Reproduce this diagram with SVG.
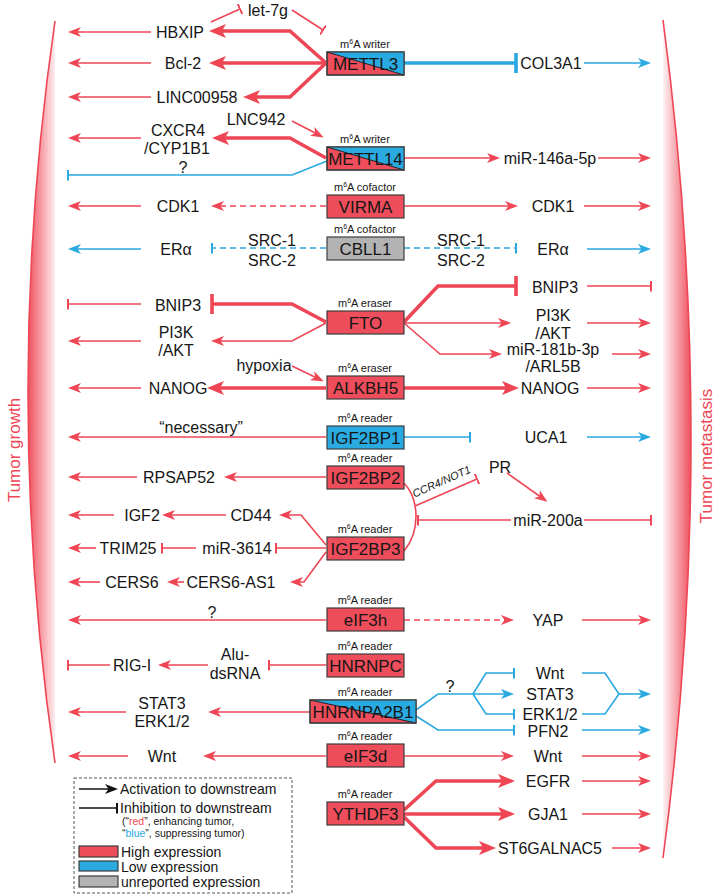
<svg xmlns="http://www.w3.org/2000/svg" width="716" height="894" viewBox="0 0 716 894">
<style>
text{font-family:"Liberation Sans",Arial,Helvetica,sans-serif;fill:#161616}
.t{font-size:16px;text-anchor:middle;dominant-baseline:central}
.bx{font-size:17px;text-anchor:middle;dominant-baseline:central}
.m6{font-size:11px;text-anchor:middle}
.sup{font-size:7px}
.lg{font-size:14px;dominant-baseline:central}
.ls{font-size:10.5px;dominant-baseline:central}
.side{font-size:17px;fill:#ee4655;text-anchor:middle;dominant-baseline:central}
.r{stroke:#ee4655;stroke-width:1.6;fill:none}
.rt{stroke:#ee4655;stroke-width:3.6;fill:none}
.b{stroke:#29a9e0;stroke-width:1.6;fill:none}
.bt{stroke:#29a9e0;stroke-width:3.6;fill:none}
.k{stroke:#111;stroke-width:1.6;fill:none}
.d{stroke-dasharray:6 4}
.boxR{fill:#ee4d5b;stroke:#3c3c3c;stroke-width:1.2}
.boxB{fill:#29abe2;stroke:#3c3c3c;stroke-width:1.2}
.boxG{fill:#b3b3b3;stroke:#3c3c3c;stroke-width:1.2}
.tri{fill:#29abe2}
.diag{stroke:#222;stroke-width:1}
</style>
<defs>
<marker id="aR" markerUnits="userSpaceOnUse" markerWidth="14" markerHeight="10" refX="10" refY="5" orient="auto"><path d="M0,0 L13,5 L0,10 L3.5,5 z" fill="#ee4655"/></marker>
<marker id="aRt" markerUnits="userSpaceOnUse" markerWidth="18" markerHeight="14" refX="12" refY="7" orient="auto"><path d="M0,0 L17,7 L0,14 L4,7 z" fill="#ee4655"/></marker>
<marker id="aB" markerUnits="userSpaceOnUse" markerWidth="14" markerHeight="10" refX="10" refY="5" orient="auto"><path d="M0,0 L13,5 L0,10 L3.5,5 z" fill="#29a9e0"/></marker>
<marker id="aK" markerUnits="userSpaceOnUse" markerWidth="14" markerHeight="10" refX="10" refY="5" orient="auto"><path d="M0,0 L13,5 L0,10 L3.5,5 z" fill="#111"/></marker>
<marker id="bR" markerUnits="userSpaceOnUse" markerWidth="2" markerHeight="11" refX="1" refY="5.5" orient="auto"><rect width="2" height="11" fill="#ee4655"/></marker>
<marker id="bRt" markerUnits="userSpaceOnUse" markerWidth="3.6" markerHeight="20" refX="1.8" refY="10" orient="auto"><rect width="3.6" height="20" fill="#ee4655"/></marker>
<marker id="bB" markerUnits="userSpaceOnUse" markerWidth="2" markerHeight="11" refX="1" refY="5.5" orient="auto"><rect width="2" height="11" fill="#29a9e0"/></marker>
<marker id="bBt" markerUnits="userSpaceOnUse" markerWidth="3.6" markerHeight="20" refX="1.8" refY="10" orient="auto"><rect width="3.6" height="20" fill="#29a9e0"/></marker>
<marker id="bK" markerUnits="userSpaceOnUse" markerWidth="2" markerHeight="11" refX="1" refY="5.5" orient="auto"><rect width="2" height="11" fill="#111"/></marker>
<linearGradient id="gL" gradientUnits="userSpaceOnUse" x1="28" y1="0" x2="58" y2="0"><stop offset="0" stop-color="#ee4655" stop-opacity="0.95"/><stop offset="1" stop-color="#ee4655" stop-opacity="0"/></linearGradient>
<linearGradient id="gR" gradientUnits="userSpaceOnUse" x1="691" y1="0" x2="661" y2="0"><stop offset="0" stop-color="#ee4655" stop-opacity="0.95"/><stop offset="1" stop-color="#ee4655" stop-opacity="0"/></linearGradient>
</defs>
<rect width="716" height="894" fill="#fff"/>

<g id="brackets">
<path d="M55,21 Q1,392 55,763 Z" fill="url(#gL)"/>
<path d="M55,21 Q1,392 55,763" class="r"/>
<path d="M663,20 Q719,439 663,858 Z" fill="url(#gR)"/>
<path d="M663,20 Q719,439 663,858" class="r"/>
<text class="side" transform="translate(14,450) rotate(-90)">Tumor growth</text>
<text class="side" transform="translate(706,456) rotate(-90)">Tumor metastasis</text>
</g>

<g id="connectors">
<!-- METTL3 -->
<path class="rt" d="M326,63 L290,31 L214,31" marker-end="url(#aRt)"/>
<path class="rt" d="M326,63 L214,63" marker-end="url(#aRt)"/>
<path class="rt" d="M326,63 L290,97 L248,97" marker-end="url(#aRt)"/>
<path class="r" d="M151,32 L71,32" marker-end="url(#aR)"/>
<path class="r" d="M151,63 L71,63" marker-end="url(#aR)"/>
<path class="r" d="M151,97 L71,97" marker-end="url(#aR)"/>
<path class="r" d="M211,22 L240,9" marker-end="url(#bR)"/>
<path class="r" d="M292,10 L323,30" marker-end="url(#bR)"/>
<path class="bt" d="M404,63 L516,63" marker-end="url(#bBt)"/>
<path class="b" d="M584,63 L648,63" marker-end="url(#aB)"/>
<!-- METTL14 -->
<path class="r" d="M292,121 L321,136" marker-end="url(#aR)"/>
<path class="rt" d="M326,158 L290,138 L217,138" marker-end="url(#aRt)"/>
<path class="r" d="M141,138 L71,138" marker-end="url(#aR)"/>
<path class="b" d="M327,161 L292,175 L68,175" marker-end="url(#bB)"/>
<path class="r" d="M404,158 L497,158" marker-end="url(#aR)"/>
<path class="r" d="M598,158 L648,158" marker-end="url(#aR)"/>
<!-- VIRMA -->
<path class="r d" d="M326,206 L214,206" marker-end="url(#aR)"/>
<path class="r" d="M141,206 L71,206" marker-end="url(#aR)"/>
<path class="r" d="M404,206 L515,206" marker-end="url(#aR)"/>
<path class="r" d="M584,206 L648,206" marker-end="url(#aR)"/>
<!-- CBLL1 -->
<path class="b d" d="M326,248 L212,248" marker-end="url(#bB)"/>
<path class="b" d="M141,249 L71,249" marker-end="url(#aB)"/>
<path class="b d" d="M404,248 L516,248" marker-end="url(#bB)"/>
<path class="b" d="M587,249 L648,249" marker-end="url(#aB)"/>
<!-- FTO -->
<path class="rt" d="M326,322 L292,304 L212,304" marker-end="url(#bRt)"/>
<path class="r" d="M141,304 L68,304" marker-end="url(#bR)"/>
<path class="r" d="M326,323 L292,341 L214,341" marker-end="url(#aR)"/>
<path class="r" d="M141,341 L71,341" marker-end="url(#aR)"/>
<path class="rt" d="M404,322 L438,286 L516,286" marker-end="url(#bRt)"/>
<path class="r" d="M587,286 L651,286" marker-end="url(#bR)"/>
<path class="r" d="M404,323 L508,323" marker-end="url(#aR)"/>
<path class="r" d="M587,323 L648,323" marker-end="url(#aR)"/>
<path class="r" d="M404,323 L440,354 L499,354" marker-end="url(#aR)"/>
<path class="r" d="M612,354 L648,354" marker-end="url(#aR)"/>
<!-- ALKBH5 -->
<path class="r" d="M292,366 L321,380" marker-end="url(#aR)"/>
<path class="rt" d="M326,388 L212,388" marker-end="url(#aRt)"/>
<path class="r" d="M141,388 L71,388" marker-end="url(#aR)"/>
<path class="rt" d="M404,388 L514,388" marker-end="url(#aRt)"/>
<path class="r" d="M587,388 L648,388" marker-end="url(#aR)"/>
<!-- IGF2BP1 -->
<path class="r" d="M326,437 L71,437" marker-end="url(#aR)"/>
<path class="b" d="M404,437 L470,437" marker-end="url(#bB)"/>
<path class="b" d="M587,437 L648,437" marker-end="url(#aB)"/>
<!-- IGF2BP2 -->
<path class="r" d="M326,477 L227,477" marker-end="url(#aR)"/>
<path class="r" d="M137,477 L71,477" marker-end="url(#aR)"/>
<path class="r" d="M404,483 C420,500 420,532 404,551"/>
<path class="r" d="M415,506 L477,479" marker-end="url(#bR)"/>
<path class="r" d="M507,473 L545,500" marker-end="url(#aR)"/>
<path class="r" d="M511,520 L418,520" marker-end="url(#bR)"/>
<path class="r" d="M584,520 L651,520" marker-end="url(#bR)"/>
<!-- IGF2BP3 -->
<path class="r" d="M326,545 L301,515 L282,515" marker-end="url(#aR)"/>
<path class="r" d="M226,515 L165,515" marker-end="url(#aR)"/>
<path class="r" d="M114,515 L71,515" marker-end="url(#aR)"/>
<path class="r" d="M326,548 L276,548" marker-end="url(#bR)"/>
<path class="r" d="M196,548 L162,548" marker-end="url(#bR)"/>
<path class="r" d="M96,548 L71,548" marker-end="url(#aR)"/>
<path class="r" d="M326,552 L304,582 L293,582" marker-end="url(#aR)"/>
<path class="r" d="M184,582 L170,582" marker-end="url(#aR)"/>
<path class="r" d="M100,582 L71,582" marker-end="url(#aR)"/>
<!-- eIF3h -->
<path class="r" d="M326,620 L71,620" marker-end="url(#aR)"/>
<path class="r d" d="M404,620 L511,620" marker-end="url(#aR)"/>
<path class="r" d="M582,620 L648,620" marker-end="url(#aR)"/>
<!-- HNRNPC -->
<path class="r" d="M326,665 L269,665" marker-end="url(#bR)"/>
<path class="r" d="M208,665 L161,665" marker-end="url(#aR)"/>
<path class="r" d="M110,665 L68,665" marker-end="url(#bR)"/>
<!-- HNRNPA2B1 -->
<path class="r" d="M310,712 L211,712" marker-end="url(#aR)"/>
<path class="r" d="M126,712 L71,712" marker-end="url(#aR)"/>
<path class="b" d="M416,710 L438,694 L473,694"/>
<path class="b" d="M473,694 L486,673 L514,673" marker-end="url(#bB)"/>
<path class="b" d="M473,694 L511,694" marker-end="url(#aB)"/>
<path class="b" d="M473,694 L486,714 L514,714" marker-end="url(#bB)"/>
<path class="b" d="M582,673 L605,673 L619,694 L605,714 L582,714"/>
<path class="b" d="M619,694 L648,694" marker-end="url(#aB)"/>
<path class="b" d="M416,716 L438,730 L514,730" marker-end="url(#bB)"/>
<path class="b" d="M582,730 L648,730" marker-end="url(#aB)"/>
<!-- eIF3d -->
<path class="r" d="M326,756 L206,756" marker-end="url(#aR)"/>
<path class="r" d="M128,756 L71,756" marker-end="url(#aR)"/>
<path class="r" d="M404,756 L511,756" marker-end="url(#aR)"/>
<path class="r" d="M582,756 L648,756" marker-end="url(#aR)"/>
<!-- YTHDF3 -->
<path class="rt" d="M404,810 L436,781 L510,781" marker-end="url(#aRt)"/>
<path class="rt" d="M404,814 L510,814" marker-end="url(#aRt)"/>
<path class="rt" d="M404,817 L436,848 L491,848" marker-end="url(#aRt)"/>
<path class="r" d="M582,781 L648,781" marker-end="url(#aR)"/>
<path class="r" d="M582,814 L648,814" marker-end="url(#aR)"/>
<path class="r" d="M612,848 L648,848" marker-end="url(#aR)"/>
</g>

<g id="METTL3"><text class="m6" x="365" y="48">m<tspan class="sup" dy="-4">6</tspan><tspan dy="4">A writer</tspan></text>
<rect class="boxR" x="327" y="52" width="77" height="23" stroke="none"/><polygon class="tri" points="327,52 404,52 404,75"/><line class="diag" x1="327" y1="52" x2="404" y2="75"/><rect x="327" y="52" width="77" height="23" fill="none" stroke="#3c3c3c" stroke-width="1.2"/>
<text class="bx" x="365.5" y="64">METTL3</text></g>
<g id="METTL14"><text class="m6" x="365" y="143">m<tspan class="sup" dy="-4">6</tspan><tspan dy="4">A writer</tspan></text>
<rect class="boxR" x="327" y="147" width="77" height="23" stroke="none"/><polygon class="tri" points="327,147 404,147 404,170"/><line class="diag" x1="327" y1="147" x2="404" y2="170"/><rect x="327" y="147" width="77" height="23" fill="none" stroke="#3c3c3c" stroke-width="1.2"/>
<text class="bx" x="365.5" y="159">METTL14</text></g>
<g id="VIRMA"><text class="m6" x="365" y="191">m<tspan class="sup" dy="-4">6</tspan><tspan dy="4">A cofactor</tspan></text><rect class="boxR" x="327" y="195" width="77" height="23"/><text class="bx" x="365.5" y="207">VIRMA</text></g>
<g id="CBLL1"><text class="m6" x="365" y="233">m<tspan class="sup" dy="-4">6</tspan><tspan dy="4">A cofactor</tspan></text><rect class="boxG" x="327" y="237" width="77" height="23"/><text class="bx" x="365.5" y="249">CBLL1</text></g>
<g id="FTO"><text class="m6" x="365" y="307">m<tspan class="sup" dy="-4">6</tspan><tspan dy="4">A eraser</tspan></text><rect class="boxR" x="327" y="311" width="77" height="23"/><text class="bx" x="365.5" y="323">FTO</text></g>
<g id="ALKBH5"><text class="m6" x="365" y="372">m<tspan class="sup" dy="-4">6</tspan><tspan dy="4">A eraser</tspan></text><rect class="boxR" x="327" y="376" width="77" height="23"/><text class="bx" x="365.5" y="388">ALKBH5</text></g>
<g id="IGF2BP1"><text class="m6" x="365" y="422">m<tspan class="sup" dy="-4">6</tspan><tspan dy="4">A reader</tspan></text><rect class="boxB" x="327" y="426" width="77" height="23"/><text class="bx" x="365.5" y="438">IGF2BP1</text></g>
<g id="IGF2BP2"><text class="m6" x="365" y="462">m<tspan class="sup" dy="-4">6</tspan><tspan dy="4">A reader</tspan></text><rect class="boxR" x="327" y="466" width="77" height="23"/><text class="bx" x="365.5" y="478">IGF2BP2</text></g>
<g id="IGF2BP3"><text class="m6" x="365" y="533">m<tspan class="sup" dy="-4">6</tspan><tspan dy="4">A reader</tspan></text><rect class="boxR" x="327" y="537" width="77" height="23"/><text class="bx" x="365.5" y="549">IGF2BP3</text></g>
<g id="eIF3h"><text class="m6" x="365" y="604">m<tspan class="sup" dy="-4">6</tspan><tspan dy="4">A reader</tspan></text><rect class="boxR" x="327" y="608" width="77" height="23"/><text class="bx" x="365.5" y="620">eIF3h</text></g>
<g id="HNRNPC"><text class="m6" x="365" y="650">m<tspan class="sup" dy="-4">6</tspan><tspan dy="4">A reader</tspan></text><rect class="boxR" x="327" y="654" width="77" height="23"/><text class="bx" x="365.5" y="666">HNRNPC</text></g>
<g id="HNRNPA2B1"><text class="m6" x="365" y="696">m<tspan class="sup" dy="-4">6</tspan><tspan dy="4">A reader</tspan></text>
<rect class="boxR" x="310" y="700" width="106" height="23" stroke="none"/><polygon class="tri" points="310,700 416,700 416,723"/><line class="diag" x1="310" y1="700" x2="416" y2="723"/><rect x="310" y="700" width="106" height="23" fill="none" stroke="#3c3c3c" stroke-width="1.2"/>
<text class="bx" x="363" y="712">HNRNPA2B1</text></g>
<g id="eIF3d"><text class="m6" x="365" y="740">m<tspan class="sup" dy="-4">6</tspan><tspan dy="4">A reader</tspan></text><rect class="boxR" x="327" y="744" width="77" height="23"/><text class="bx" x="365.5" y="756">eIF3d</text></g>
<g id="YTHDF3"><text class="m6" x="365" y="798">m<tspan class="sup" dy="-4">6</tspan><tspan dy="4">A reader</tspan></text><rect class="boxR" x="327" y="802" width="77" height="23"/><text class="bx" x="365.5" y="814">YTHDF3</text></g>

<g id="let-7g"><text class="t" x="268" y="10">let-7g</text></g>
<g id="HBXIP"><text class="t" x="180" y="32">HBXIP</text></g>
<g id="Bcl-2"><text class="t" x="183" y="63">Bcl-2</text></g>
<g id="LINC00958"><text class="t" x="197" y="97">LINC00958</text></g>
<g id="COL3A1"><text class="t" x="551" y="63">COL3A1</text></g>
<g id="LNC942"><text class="t" x="256" y="119">LNC942</text></g>
<g id="CXCR4"><text class="t" x="178" y="130">CXCR4</text><text class="t" x="177" y="148">/CYP1B1</text></g>
<g id="q1"><text class="t" x="183" y="167">?</text></g>
<g id="miR-146a-5p"><text class="t" x="550" y="158">miR-146a-5p</text></g>
<g id="CDK1-L"><text class="t" x="178" y="206">CDK1</text></g>
<g id="CDK1-R"><text class="t" x="553" y="206">CDK1</text></g>
<g id="ERa-L"><text class="t" x="176" y="249">ERα</text></g>
<g id="ERa-R"><text class="t" x="553" y="249">ERα</text></g>
<g id="SRC-L"><text class="t" x="272" y="240">SRC-1</text><text class="t" x="272" y="260">SRC-2</text></g>
<g id="SRC-R"><text class="t" x="461" y="240">SRC-1</text><text class="t" x="461" y="260">SRC-2</text></g>
<g id="BNIP3-L"><text class="t" x="178" y="305">BNIP3</text></g>
<g id="PI3K-L"><text class="t" x="176" y="332">PI3K</text><text class="t" x="176" y="350">/AKT</text></g>
<g id="BNIP3-R"><text class="t" x="555" y="287">BNIP3</text></g>
<g id="PI3K-R"><text class="t" x="553" y="315">PI3K</text><text class="t" x="553" y="333">/AKT</text></g>
<g id="miR-181b"><text class="t" x="553" y="349">miR-181b-3p</text><text class="t" x="553" y="366">/ARL5B</text></g>
<g id="hypoxia"><text class="t" x="264" y="365">hypoxia</text></g>
<g id="NANOG-L"><text class="t" x="178" y="388">NANOG</text></g>
<g id="NANOG-R"><text class="t" x="550" y="388">NANOG</text></g>
<g id="necessary"><text class="t" x="201" y="427">“necessary”</text></g>
<g id="UCA1"><text class="t" x="546" y="437">UCA1</text></g>
<g id="RPSAP52"><text class="t" x="179" y="477">RPSAP52</text></g>
<g id="CCR4"><text x="0" y="0" font-size="11" font-style="italic" text-anchor="middle" transform="translate(443,485) rotate(-24)">CCR4/NOT1</text></g>
<g id="PR"><text class="t" x="500" y="467">PR</text></g>
<g id="miR-200a"><text class="t" x="548" y="520">miR-200a</text></g>
<g id="CD44"><text class="t" x="251" y="515">CD44</text></g>
<g id="IGF2"><text class="t" x="142" y="515">IGF2</text></g>
<g id="miR-3614"><text class="t" x="237" y="548">miR-3614</text></g>
<g id="TRIM25"><text class="t" x="128" y="548">TRIM25</text></g>
<g id="CERS6-AS1"><text class="t" x="231" y="582">CERS6-AS1</text></g>
<g id="CERS6"><text class="t" x="132" y="582">CERS6</text></g>
<g id="q2"><text class="t" x="212" y="612">?</text></g>
<g id="YAP"><text class="t" x="548" y="620">YAP</text></g>
<g id="Alu"><text class="t" x="235" y="654">Alu-</text><text class="t" x="235" y="673">dsRNA</text></g>
<g id="RIG-I"><text class="t" x="132" y="665">RIG-I</text></g>
<g id="STAT3-L"><text class="t" x="162" y="703">STAT3</text><text class="t" x="162" y="721">ERK1/2</text></g>
<g id="q3"><text class="t" x="450" y="686">?</text></g>
<g id="Wnt-R1"><text class="t" x="550" y="673">Wnt</text></g>
<g id="STAT3-R"><text class="t" x="550" y="694">STAT3</text></g>
<g id="ERK-R"><text class="t" x="550" y="714">ERK1/2</text></g>
<g id="PFN2"><text class="t" x="548" y="731">PFN2</text></g>
<g id="Wnt-L"><text class="t" x="162" y="756">Wnt</text></g>
<g id="Wnt-R2"><text class="t" x="548" y="756">Wnt</text></g>
<g id="EGFR"><text class="t" x="548" y="781">EGFR</text></g>
<g id="GJA1"><text class="t" x="548" y="814">GJA1</text></g>
<g id="ST6GALNAC5"><text class="t" x="550" y="848">ST6GALNAC5</text></g>

<g id="legend">
<rect x="74" y="778" width="218" height="115" fill="none" stroke="#555" stroke-width="1" stroke-dasharray="3 2"/>
<path class="k" d="M79,789 L115,789" marker-end="url(#aK)"/>
<text class="lg" x="120" y="789">Activation to downstream</text>
<path class="k" d="M79,808 L117,808" marker-end="url(#bK)"/>
<text class="lg" x="120" y="808">Inhibition to downstream</text>
<text class="ls" x="122" y="821">(“<tspan fill="#ee4655">red</tspan>”, enhancing tumor,</text>
<text class="ls" x="122" y="833">“<tspan fill="#29a9e0">blue</tspan>”, suppressing tumor)</text>
<rect class="boxR" x="79" y="846" width="39" height="11"/>
<text class="lg" x="121" y="851.5">High expression</text>
<rect class="boxB" x="79" y="861" width="39" height="10"/>
<text class="lg" x="121" y="866.5">Low expression</text>
<rect class="boxG" x="79" y="876" width="39" height="11"/>
<text class="lg" x="121" y="881.5">unreported expression</text>
</g>
</svg>
